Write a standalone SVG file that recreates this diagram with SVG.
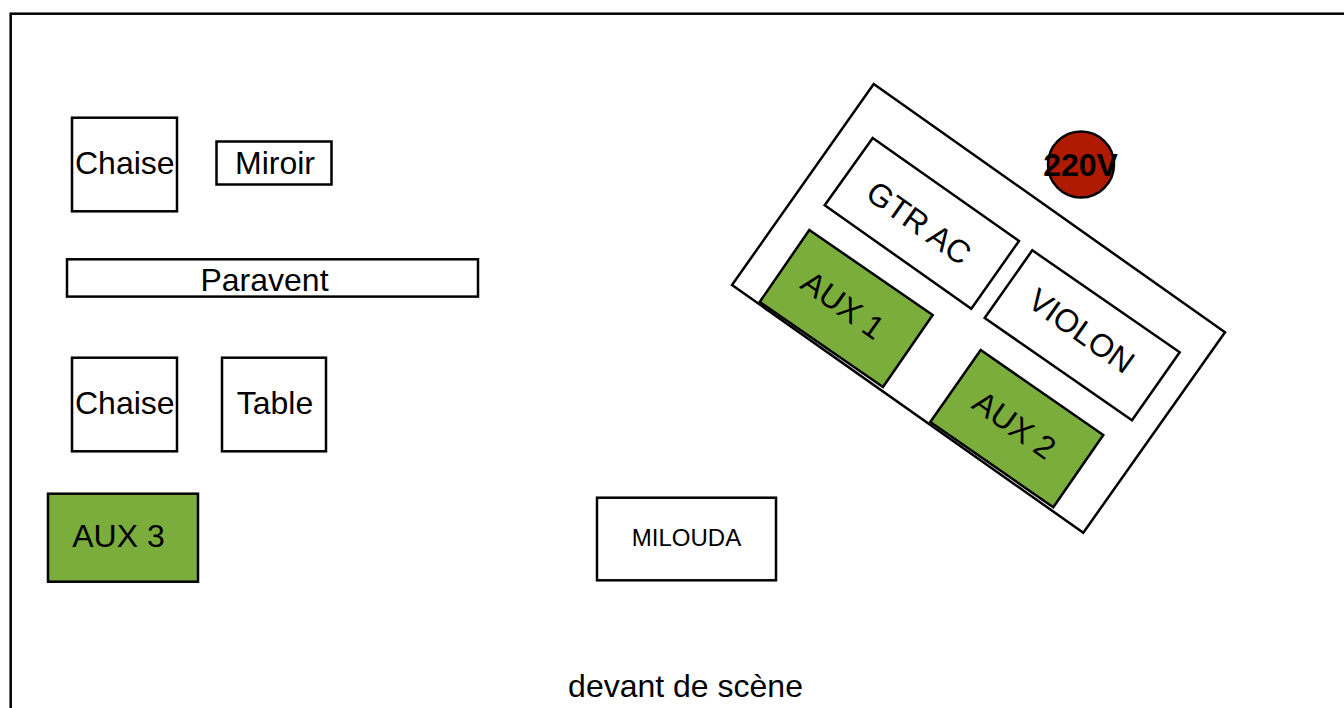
<svg xmlns="http://www.w3.org/2000/svg" width="1344" height="708" viewBox="0 0 1344 708">
<style>
.s{fill:#fff;stroke:#000;stroke-width:2.5}
.g{fill:#7aad3b;stroke:#000;stroke-width:2.5}
.n{fill:none;stroke:#000;stroke-width:2.5}
text{font-family:"Liberation Sans",Arial,sans-serif;font-size:32px;fill:#000;text-anchor:middle}
</style>
<rect width="1344" height="708" fill="#fff"/>
<rect id="frame" class="n" x="10.7" y="13.7" width="1400" height="760"/>
<g id="chaise1"><rect class="s" x="72" y="117.7" width="105" height="93.6"/><text x="124.8" y="174">Chaise</text></g>
<g id="miroir"><rect class="s" x="216.5" y="141.5" width="115" height="43"/><text x="275" y="174">Miroir</text></g>
<g id="paravent"><rect class="s" x="67" y="259.3" width="411" height="37.3"/><text x="264.5" y="291">Paravent</text></g>
<g id="chaise2"><rect class="s" x="72" y="357.7" width="105" height="93.6"/><text x="124.8" y="414">Chaise</text></g>
<g id="table"><rect class="s" x="222" y="357.7" width="104" height="93.6"/><text x="275" y="414">Table</text></g>
<g id="aux3"><rect class="g" x="48" y="493.7" width="150" height="88"/><text x="118.5" y="547">AUX 3</text></g>
<g id="milouda"><rect class="s" x="597" y="497.7" width="179" height="82.6"/><text x="686.5" y="546" style="font-size:24px">MILOUDA</text></g>
<g id="scene"><text x="685.5" y="697">devant de scène</text></g>
<g id="riser"><polygon class="s" points="873.7,84 1225,332.3 1083.3,532.7 732,285"/></g>
<g id="gtr"><polygon class="s" points="872.7,138 1019,241 971.3,308.7 824.7,205.3"/><text transform="translate(912.5,232) rotate(35.3)">GTR AC</text></g>
<g id="violon"><polygon class="s" points="1032.3,250.3 1179.7,352.3 1132,420.3 984.7,318"/><text transform="translate(1075,340) rotate(35.3)">VIOLON</text></g>
<g id="aux1"><polygon class="g" points="809.3,230 932.7,315 883,387 759.7,302"/><text transform="translate(836.5,314) rotate(35.3)">AUX 1</text></g>
<g id="aux2"><polygon class="g" points="980.7,350 1103.3,435 1053.3,507.3 930.3,422"/><text transform="translate(1008,434) rotate(35.3)">AUX 2</text></g>
<g id="v220"><circle cx="1081" cy="164.5" r="33" fill="#b01a00" stroke="#000" stroke-width="2.5"/><text x="1080.5" y="176" style="font-weight:bold">220V</text></g>
</svg>
